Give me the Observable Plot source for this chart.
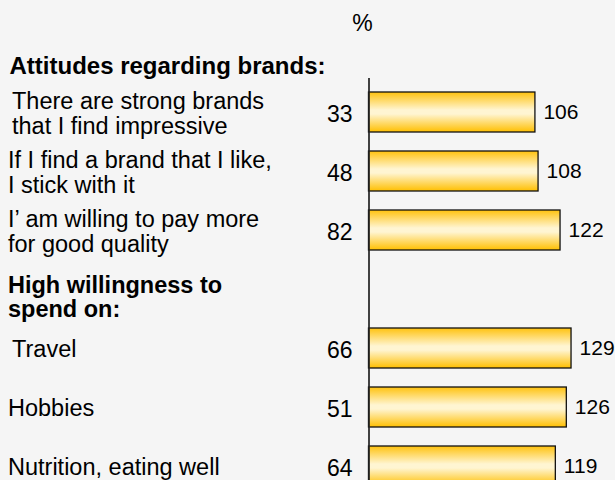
<!DOCTYPE html>
<html>
<head>
<meta charset="utf-8">
<script src="https://cdn.jsdelivr.net/npm/d3@7"></script>
<script src="https://cdn.jsdelivr.net/npm/@observablehq/plot@0.6"></script>
<style>
  html, body { margin: 0; padding: 0; background: #f5f5f5; overflow: hidden; }
</style>
</head>
<body>
<div id="chart"></div>
<script>
// ---- data ----
const categories = [
  "There are strong brands\nthat I find impressive",
  "If I find a brand that I like,\nI stick with it",
  "I’ am willing to pay more\nfor good quality",
  "Travel",
  "Hobbies",
  "Nutrition, eating well"
];
const shares = [33, 48, 82, 66, 51, 64];      // % column
const indexValues = [106, 108, 122, 129, 126, 119]; // bar values
const header1 = "Attitudes regarding brands:";
const header2 = "High willingness to\nspend on:";
const unitLabel = "%";
const indented = ["There are strong brands\nthat I find impressive", "Travel"];

// ---- build table ----
const rows = categories.map((c, i) => ({label: c, share: shares[i], index: indexValues[i]}));
const GAP = "__gap__";
const yDomain = [categories[0], categories[1], categories[2], GAP, categories[3], categories[4], categories[5]];

const font = "'Liberation Sans', Arial, Helvetica, sans-serif";

const defs = () => {
  const d = d3.create("svg:defs");
  const g = d.append("linearGradient").attr("id", "barGrad")
    .attr("x1", 0).attr("y1", 0).attr("x2", 0).attr("y2", 1);
  g.append("stop").attr("offset", "0%").attr("stop-color", "#ffc20e");
  g.append("stop").attr("offset", "45%").attr("stop-color", "#fff5d2");
  g.append("stop").attr("offset", "55%").attr("stop-color", "#fff5d2");
  g.append("stop").attr("offset", "100%").attr("stop-color", "#ffbf00");
  return d.node();
};

const chart = Plot.plot({
  width: 615,
  height: 510,
  marginTop: 70,
  marginBottom: 3.3,
  marginLeft: 368.5,
  marginRight: 11,
  style: {background: "#f5f5f5", fontFamily: font, color: "#000", overflow: "visible"},
  x: {domain: [0, 150], axis: null},
  y: {type: "band", domain: yDomain, paddingInner: 0.33, paddingOuter: 0.33, axis: null},
  marks: [
    defs,
    Plot.barX(rows, {x: "index", y: "label", fill: "url(#barGrad)", stroke: "#111", strokeWidth: 1.3}),
    Plot.ruleX([0], {insetTop: 8, stroke: "#222", strokeWidth: 1.7}),
    // left labels
    Plot.text(rows, {
      filter: d => !indented.includes(d.label),
      y: "label", text: "label", frameAnchor: "left", textAnchor: "start", lineAnchor: "middle",
      dx: -361, dy: 1, fontSize: 23.5, lineHeight: 1.04, fill: "#000"
    }),
    Plot.text(rows, {
      filter: d => indented.includes(d.label),
      y: "label", text: "label", frameAnchor: "left", textAnchor: "start", lineAnchor: "middle",
      dx: -357, dy: 1, fontSize: 23.5, lineHeight: 1.04, fill: "#000"
    }),
    // % column
    Plot.text(rows, {
      y: "label", text: d => String(d.share), frameAnchor: "left", textAnchor: "end", lineAnchor: "middle",
      dx: -16.5, dy: 2.5, fontSize: 23, fill: "#000"
    }),
    // bar value labels
    Plot.text(rows, {
      x: "index", y: "label", text: d => String(d.index), textAnchor: "start", lineAnchor: "middle",
      dx: 8, dy: 0, fontSize: 21, fill: "#000"
    }),
    // headers
    Plot.text([{key: categories[0], t: header1}], {
      y: "key", text: "t", frameAnchor: "left", textAnchor: "start", lineAnchor: "middle",
      dx: -359.5, dy: -46.2, fontSize: 24, fontWeight: "bold", fill: "#000"
    }),
    Plot.text([{key: GAP, t: header2}], {
      y: "key", text: "t", frameAnchor: "left", textAnchor: "start", lineAnchor: "middle",
      dx: -361, dy: 7.5, fontSize: 23.5, lineHeight: 1.04, fontWeight: "bold", fill: "#000"
    }),
    Plot.text([unitLabel], {
      frameAnchor: "top-left", textAnchor: "middle", lineAnchor: "middle",
      dx: -6.5, dy: -47.2, fontSize: 23, fill: "#000"
    })
  ]
});
document.getElementById("chart").appendChild(chart);
</script>
</body>
</html>
